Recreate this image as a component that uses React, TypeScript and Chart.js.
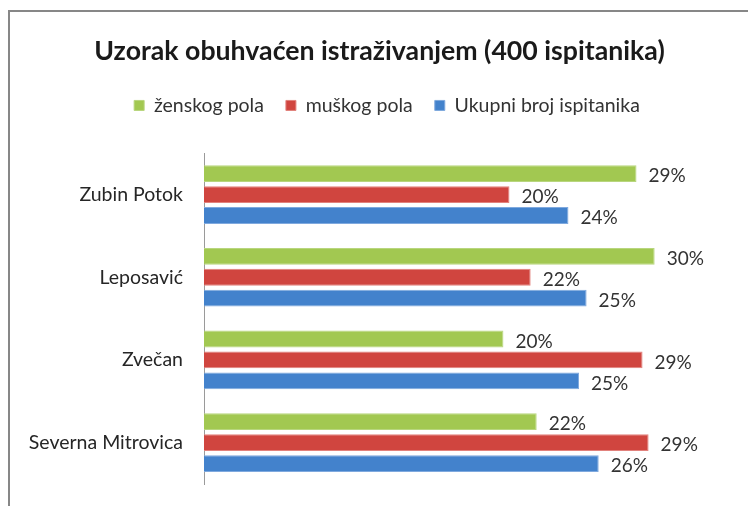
import React, { useEffect, useRef } from "react";
import { Chart, registerables } from "chart.js";

Chart.register(...registerables);

const FONT = "Lato, 'Liberation Sans', Arial, sans-serif";

const chartTitle = "Uzorak obuhvaćen istraživanjem (400 ispitanika)";
const categories = ["Zubin Potok", "Leposavić", "Zvečan", "Severna Mitrovica"];
const seriesNames = ["ženskog pola", "muškog pola", "Ukupni broj ispitanika"];
const zenskogPola = [28.6, 29.8, 19.8, 22.0];
const muskogPola = [20.2, 21.6, 29.0, 29.4];
const ukupniBroj = [24.1, 25.3, 24.8, 26.1];
const seriesColors = ["#A2C851", "#D0453F", "#4382CC"];
const seriesBorders = ["#B8D67E", "#E2827D", "#7FA9DE"];

const valueLabels = {
  id: "valueLabels",
  afterDatasetsDraw(chart: any) {
    const ctx = chart.ctx;
    ctx.save();
    ctx.font = `19px ${FONT}`;
    ctx.fillStyle = "#333333";
    ctx.textAlign = "left";
    ctx.textBaseline = "middle";
    chart.data.datasets.forEach((ds: any, i: number) => {
      const meta = chart.getDatasetMeta(i);
      meta.data.forEach((el: any, j: number) => {
        ctx.fillText(Math.round(ds.data[j]) + "%", el.x + 12, el.y + 2.5);
      });
    });
    ctx.restore();
  },
};

const legendSpacer = {
  id: "legendSpacer",
  beforeLayout(chart: any) {
    const legend = chart.legend;
    if (legend && !legend.__patched) {
      const orig = legend.fit;
      legend.fit = function () {
        orig.call(this);
        this.height += 28;
      };
      legend.__patched = true;
    }
  },
  afterLayout(chart: any) {
    const legend = chart.legend;
    if (legend) {
      legend.left += 7.5;
      legend.right += 7.5;
    }
  },
};

export default function App() {
  const ref = useRef<HTMLCanvasElement | null>(null);
  useEffect(() => {
    if (!ref.current) return;
    const data = [zenskogPola, muskogPola, ukupniBroj];
    const chart = new Chart(ref.current, {
      type: "bar",
      data: {
        labels: categories,
        datasets: seriesNames.map((name, i) => ({
          label: name,
          data: data[i],
          backgroundColor: seriesColors[i],
          borderColor: seriesBorders[i],
          borderWidth: 1,
          categoryPercentage: 0.76,
          barPercentage: 0.8,
        })),
      },
      options: {
        indexAxis: "y",
        responsive: false,
        animation: false,
        layout: { padding: { left: 0, right: 1, top: 0, bottom: 22 } },
        plugins: {
          title: {
            display: true,
            text: chartTitle,
            color: "#1a1a1a",
            font: { family: FONT, size: 26.7, weight: "bold", lineHeight: 1.0 },
            padding: { top: 38, bottom: 9 },
          },
          legend: {
            display: true,
            position: "top",
            labels: {
              color: "#333333",
              font: { family: FONT, size: 19.5 },
              boxWidth: 10,
              boxHeight: 10,
              padding: 22,
            },
          },
          tooltip: { enabled: false },
        },
        scales: {
          x: {
            display: false,
            min: 0,
            max: 36.7,
          },
          y: {
            grid: { display: false, drawTicks: false },
            border: { display: true, color: "#9a9a9a", width: 1 },
            ticks: {
              color: "#262626",
              font: { family: FONT, size: 19.5 },
              padding: 21,
            },
            afterFit(scale: any) {
              scale.width = 204;
              scale.paddingTop = 0;
              scale.paddingBottom = 0;
            },
          },
        },
      },
      plugins: [valueLabels, legendSpacer],
    });
    return () => chart.destroy();
  }, []);

  return (
    <div
      style={{
        position: "fixed",
        left: 0,
        top: 0,
        width: 748,
        height: 506,
        overflow: "hidden",
        background: "#ffffff",
      }}
    >
      <div
        style={{
          position: "absolute",
          left: 8,
          top: 10,
          width: 800,
          height: 600,
          borderLeft: "2px solid #878787",
          borderTop: "2px solid #878787",
        }}
      />
      <canvas
        ref={ref}
        width={760}
        height={506}
        style={{ position: "absolute", left: 0, top: 0, width: 760, height: 506 }}
      />
    </div>
  );
}
